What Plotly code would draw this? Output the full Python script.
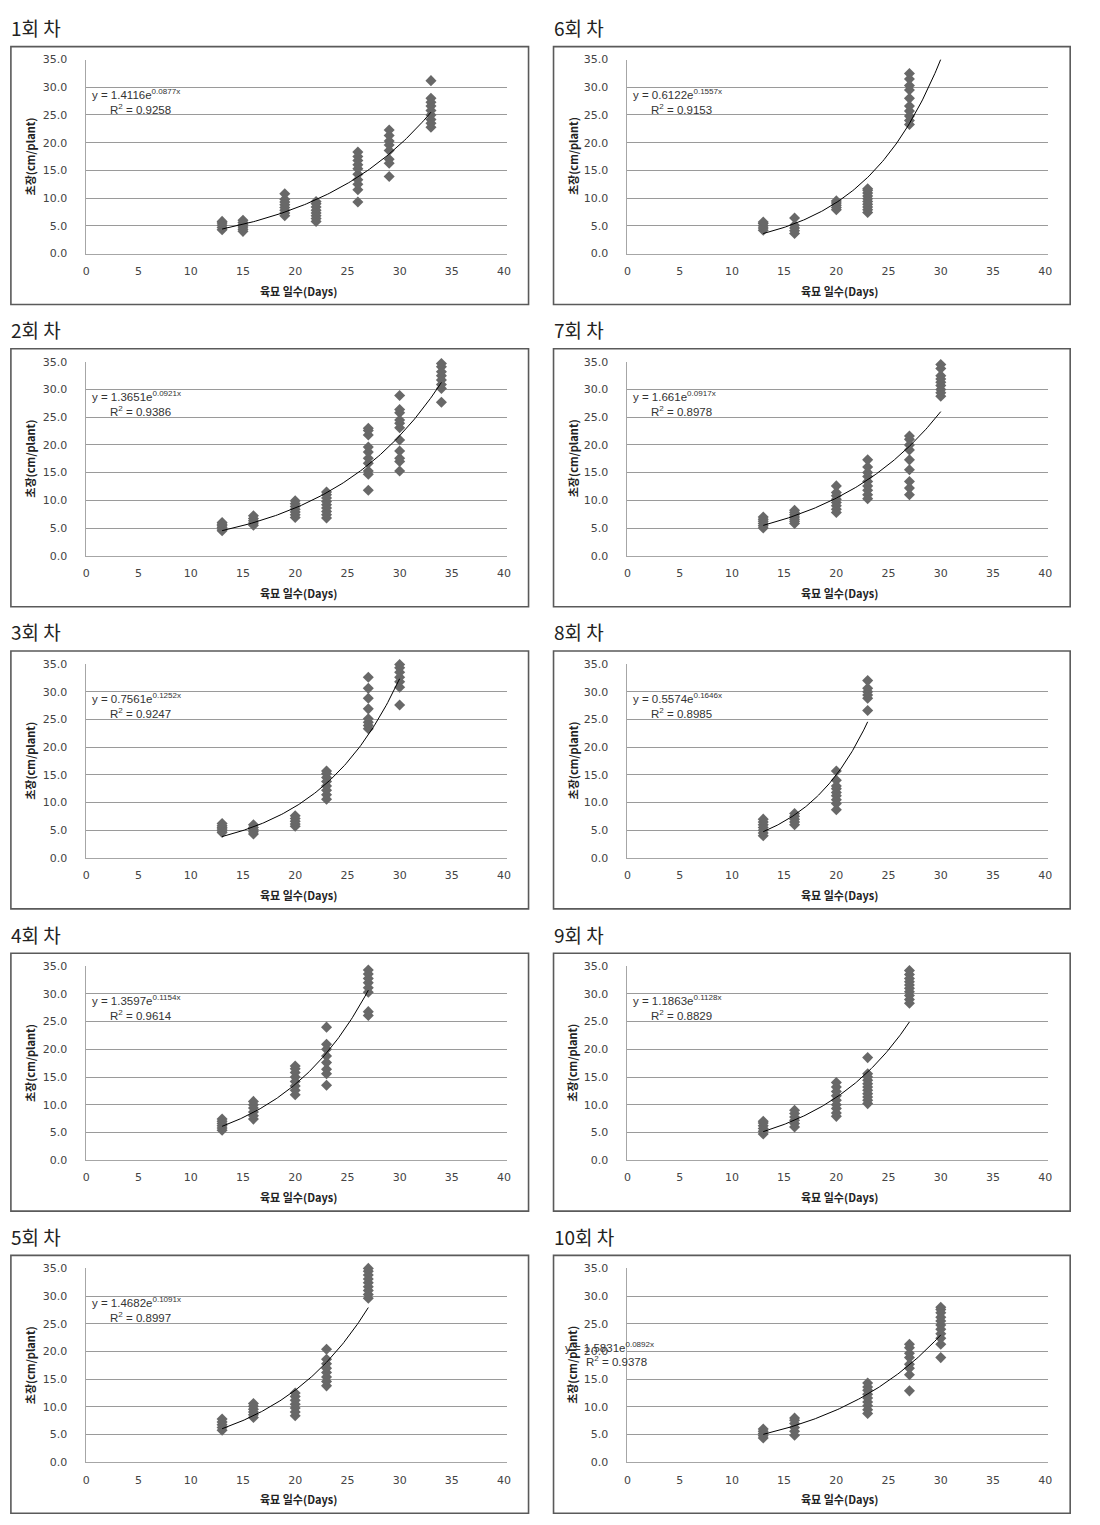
import numpy as np
import plotly.graph_objects as go

W, H = 1100, 1525

titles = ["1회 차", "2회 차", "3회 차", "4회 차", "5회 차",
          "6회 차", "7회 차", "8회 차", "9회 차", "10회 차"]

# ---- data: days (x) and plant heights (cm/plant) for each panel ----
p1_days = [13, 15, 19, 22, 26, 29, 33]
p1_vals = [[4.3, 4.7, 5.1, 5.5, 5.8],
           [4.0, 4.4, 4.8, 5.2, 5.6, 6.0],
           [6.8, 7.3, 7.8, 8.3, 8.8, 9.3, 9.8, 10.8],
           [5.8, 6.3, 6.8, 7.3, 7.8, 8.4, 9.0, 9.4],
           [9.3, 11.5, 12.5, 13.3, 14.3, 15.3, 16.0, 16.8, 17.5, 18.3],
           [13.9, 16.3, 17.0, 18.6, 19.6, 20.3, 21.3, 22.3],
           [22.8, 23.5, 24.2, 25.0, 25.8, 26.6, 27.3, 28.0, 31.2]]

p2_days = [13, 16, 20, 23, 27, 30, 34]
p2_vals = [[4.5, 4.8, 5.1, 5.4, 5.7, 6.0],
           [5.5, 5.9, 6.3, 6.7, 7.2],
           [6.9, 7.4, 7.9, 8.4, 8.9, 9.4, 9.9],
           [6.8, 7.4, 8.0, 8.6, 9.2, 9.8, 10.4, 11.0, 11.5],
           [11.8, 14.7, 15.3, 16.7, 17.6, 18.7, 19.6, 21.8, 22.6, 23.0],
           [15.3, 17.0, 17.6, 18.9, 20.9, 23.1, 23.9, 24.5, 25.8, 26.4, 28.9],
           [27.7, 30.2, 30.9, 31.7, 32.5, 33.2, 34.1, 34.7]]

p3_days = [13, 16, 20, 23, 27, 30]
p3_vals = [[4.6, 4.9, 5.2, 5.5, 5.8, 6.2],
           [4.3, 4.7, 5.1, 5.5, 6.0],
           [5.7, 6.1, 6.6, 7.1, 7.6],
           [10.6, 11.4, 12.2, 13.0, 13.8, 14.5, 15.2, 15.7],
           [23.3, 23.9, 24.5, 25.1, 26.9, 28.8, 30.6, 32.6],
           [27.6, 30.8, 31.8, 32.6, 33.5, 34.3, 34.9]]

p4_days = [13, 16, 20, 23, 27]
p4_vals = [[5.4, 5.8, 6.2, 6.6, 7.0, 7.4],
           [7.4, 8.0, 8.7, 9.4, 10.0, 10.6],
           [11.8, 12.6, 13.4, 14.2, 15.0, 15.8, 16.5, 17.0],
           [13.5, 15.6, 16.4, 17.6, 18.8, 20.0, 20.9, 24.0],
           [26.1, 26.8, 30.3, 31.1, 32.0, 32.8, 33.6, 34.3]]

p5_days = [13, 16, 20, 23, 27]
p5_vals = [[5.8, 6.3, 6.8, 7.3, 7.8],
           [8.1, 8.6, 9.1, 9.6, 10.1, 10.6],
           [8.4, 9.1, 9.8, 10.5, 11.2, 11.9, 12.5],
           [13.8, 14.6, 15.4, 16.2, 17.0, 17.8, 18.6, 20.4],
           [29.6, 30.3, 31.0, 31.7, 32.4, 33.1, 33.8, 34.5, 35.0]]

p6_days = [13, 16, 20, 23, 27]
p6_vals = [[4.2, 4.6, 5.0, 5.4, 5.7],
           [3.6, 4.1, 4.6, 5.1, 6.4],
           [7.9, 8.3, 8.7, 9.1, 9.5],
           [7.4, 7.9, 8.4, 8.9, 9.4, 9.9, 10.4, 10.9, 11.4, 11.7],
           [23.3, 24.0, 24.8, 25.7, 26.6, 28.0, 29.5, 30.3, 31.5, 32.5]]

p7_days = [13, 16, 20, 23, 27, 30]
p7_vals = [[5.0, 5.4, 5.8, 6.2, 6.6, 7.0],
           [5.8, 6.2, 6.6, 7.0, 7.4, 7.8, 8.2],
           [7.8, 8.4, 9.0, 9.6, 10.2, 10.8, 11.4, 12.6],
           [10.3, 11.0, 11.8, 12.6, 13.4, 14.3, 15.0, 16.0, 17.3],
           [11.0, 12.2, 13.4, 15.5, 17.3, 19.1, 20.0, 21.0, 21.6],
           [28.8, 29.4, 30.0, 30.7, 31.3, 31.9, 32.5, 33.8, 34.5]]

p8_days = [13, 16, 20, 23]
p8_vals = [[4.0, 4.5, 5.0, 5.5, 6.0, 6.5, 7.0],
           [6.0, 6.5, 7.0, 7.5, 8.0],
           [8.7, 9.8, 10.5, 11.2, 11.8, 12.5, 13.0, 14.0, 15.7],
           [26.6, 28.8, 29.4, 30.0, 30.6, 32.0]]

p9_days = [13, 16, 20, 23, 27]
p9_vals = [[4.7, 5.2, 5.7, 6.2, 6.7, 7.0],
           [6.0, 6.6, 7.2, 7.8, 8.4, 9.0],
           [7.9, 8.5, 9.3, 10.0, 10.8, 11.6, 12.4, 13.2, 14.0],
           [10.2, 10.8, 11.4, 12.0, 12.6, 13.2, 13.8, 14.4, 15.0, 15.6, 18.5],
           [28.3, 29.0, 29.7, 30.4, 31.0, 31.6, 32.2, 32.8, 33.5, 34.2]]

p10_days = [13, 16, 23, 27, 30]
p10_vals = [[4.4, 4.8, 5.2, 5.6, 6.0],
            [4.9, 5.6, 6.3, 7.0, 7.6, 8.0],
            [8.8, 9.5, 10.2, 10.9, 11.6, 12.3, 13.0, 13.6, 14.3],
            [12.9, 15.8, 17.0, 17.7, 18.9, 19.7, 20.7, 21.3],
            [18.9, 21.3, 22.4, 23.2, 24.0, 24.8, 25.5, 26.2, 27.0, 27.6, 28.0]]

all_days = [p1_days, p2_days, p3_days, p4_days, p5_days,
            p6_days, p7_days, p8_days, p9_days, p10_days]
all_vals = [p1_vals, p2_vals, p3_vals, p4_vals, p5_vals,
            p6_vals, p7_vals, p8_vals, p9_vals, p10_vals]

# printed trendline equations (y = a e^(b x)) and R^2
eq_a = [1.4116, 1.3651, 0.7561, 1.3597, 1.4682, 0.6122, 1.661, 0.5574, 1.1863, 1.5831]
eq_b = [0.0877, 0.0921, 0.1252, 0.1154, 0.1091, 0.1557, 0.0917, 0.1646, 0.1128, 0.0892]
r2 = [0.9258, 0.9386, 0.9247, 0.9614, 0.8997, 0.9153, 0.8978, 0.8985, 0.8829, 0.9378]

# drawn trend curves (panel 6 is drawn differently from its printed equation)
curve_a = [1.4116, 1.3651, 0.7561, 1.3597, 1.4682, 0.633, 1.661, 0.5574, 1.1863, 1.5831]
curve_b = [0.0877, 0.0921, 0.1252, 0.1154, 0.1091, 0.1338, 0.0917, 0.1646, 0.1128, 0.0892]
curve_end = [33, 34, 30, 27, 27, 30, 30, 23, 27, 30]

x_ticks = [0, 5, 10, 15, 20, 25, 30, 35, 40]
y_ticks = [0, 5, 10, 15, 20, 25, 30, 35]
x_title = "육묘 일수(Days)"
y_title = "초장(cm/plant)"

# ---- layout geometry (target pixels) ----
ROW = 302.3
COL_X0 = [85.5, 627.0]
PX_PER_DAY = 10.45
BOX_X = [(10, 528), (553, 1070)]

# small correction so the captured picture lands on target pixels
SX, OX = 0.9934, 3.1
SY, OY = 0.9918, 5.4

def fx(p):
    return ((p - OX) / SX) / W

def fy(p):
    return 1 - ((p - OY) / SY) / H

fig = go.Figure()
annotations = []
shapes = []
layout_axes = {}

for k in range(10):
    col, row = k // 5, k % 5
    sfx = "" if k == 0 else str(k + 1)
    xa, ya = "x" + sfx, "y" + sfx
    x0 = COL_X0[col]
    y_bot = 253 + ROW * row
    y_top = 59 + ROW * row

    xs, ys = [], []
    for d, vals in zip(all_days[k], all_vals[k]):
        xs += [d] * len(vals)
        ys += vals
    fig.add_trace(go.Scatter(
        x=xs, y=ys, mode="markers", xaxis=xa, yaxis=ya,
        marker=dict(symbol="diamond", size=8.5, color="#686868", line=dict(width=0)),
        showlegend=False, cliponaxis=False))

    tx = np.linspace(all_days[k][0], curve_end[k], 120)
    ty = curve_a[k] * np.exp(curve_b[k] * tx)
    fig.add_trace(go.Scatter(
        x=tx, y=ty, mode="lines", xaxis=xa, yaxis=ya,
        line=dict(color="black", width=1), showlegend=False))

    layout_axes["xaxis" + sfx] = dict(
        domain=[fx(x0), fx(x0 + 40.3 * PX_PER_DAY)], anchor=ya,
        range=[0, 40.3], tickvals=x_ticks, showgrid=False, zeroline=False,
        showline=True, linecolor="#a6a6a6", linewidth=1, ticks="",
        tickfont=dict(family="DejaVu Sans", size=11, color="#444"),
        ticklabelstandoff=7, fixedrange=True)
    layout_axes["yaxis" + sfx] = dict(
        domain=[fy(y_bot), fy(y_top)], anchor=xa,
        range=[0, 35], tickvals=y_ticks, tickformat=".1f",
        showgrid=True, gridcolor="#9a9a9a", gridwidth=1, zeroline=False,
        showline=True, linecolor="#a6a6a6", linewidth=1, ticks="",
        tickfont=dict(family="DejaVu Sans", size=11, color="#444"),
        ticklabelstandoff=16, fixedrange=True)

    # panel frame
    bx0, bx1 = BOX_X[col]
    shapes.append(dict(type="rect", xref="paper", yref="paper",
                       x0=fx(bx0), x1=fx(bx1), y0=fy(46 + ROW * row), y1=fy(304 + ROW * row),
                       line=dict(color="#5a5a5a", width=1.6), fillcolor="rgba(0,0,0,0)"))
    # panel title
    annotations.append(dict(text=titles[k], xref="paper", yref="paper",
                            x=fx(bx0 - 2), y=fy(27 + ROW * row), xanchor="left", yanchor="middle",
                            showarrow=False,
                            font=dict(family="Noto Sans CJK KR", size=19, color="#222")))
    # axis titles
    annotations.append(dict(text="<b>" + x_title + "</b>", xref="paper", yref="paper",
                            x=fx(x0 + 20.3 * PX_PER_DAY), y=fy(290 + ROW * row),
                            xanchor="center", yanchor="middle", showarrow=False,
                            font=dict(family="Noto Sans CJK KR", size=11, color="#222")))
    annotations.append(dict(text="<b>" + y_title + "</b>", xref="paper", yref="paper",
                            x=fx(bx0 + 19), y=fy(156 + ROW * row), textangle=-90,
                            xanchor="center", yanchor="middle", showarrow=False,
                            font=dict(family="Noto Sans CJK KR", size=11, color="#222")))

    # equation labels
    if k == 9:
        ex, ey, rx, ry = 562, 1347, 583, 1361
    else:
        ex = x0 + 4
        rx = x0 + 22
        ey = 93 + ROW * row
        ry = 108 + ROW * row
    annotations.append(dict(text="y = %se<sup>%sx</sup>" % (eq_a[k], eq_b[k]),
                            xref="paper", yref="paper", x=fx(ex), y=fy(ey),
                            xanchor="left", yanchor="middle", showarrow=False,
                            font=dict(family="Liberation Sans", size=11.5, color="#333")))
    annotations.append(dict(text="R<sup>2</sup> = %s" % r2[k],
                            xref="paper", yref="paper", x=fx(rx), y=fy(ry),
                            xanchor="left", yanchor="middle", showarrow=False,
                            font=dict(family="Liberation Sans", size=11.5, color="#333")))

fig.update_layout(width=W, height=H, margin=dict(l=0, r=0, t=0, b=0),
                  paper_bgcolor="white", plot_bgcolor="white",
                  annotations=annotations, shapes=shapes, **layout_axes)

fig.write_html("out.html", config={"displayModeBar": False},
               post_script="document.body.style.margin='0';document.body.style.overflow='hidden';")
